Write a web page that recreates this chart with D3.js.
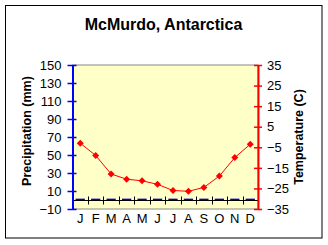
<!DOCTYPE html>
<html><head><meta charset="utf-8">
<script src="https://cdn.jsdelivr.net/npm/d3@7"></script>
<style>html,body{margin:0;padding:0;background:#fff;}svg{display:block;}</style>
</head><body>
<script>
const months = ["J","F","M","A","M","J","J","A","S","O","N","D"];
const precipitation = [1.5,1.5,1.5,1.5,1.5,1.5,1.5,1.5,1.5,1.5,1.5,1.5];
const temperature = [-3,-9,-18,-20.5,-21.3,-23,-26,-26.4,-24.5,-19,-10,-3.5];
const precipTicks = [150,130,110,90,70,50,30,10,-10];
const tempTicks = [35,25,15,5,-5,-15,-25,-35];
const title = "McMurdo, Antarctica";

const W = 328, H = 245;
const L = 72.5, R = 258, T = 65, B = 209;
const font = "'Liberation Sans', Arial, sans-serif";

const svg = d3.select("body").append("svg").attr("width", W).attr("height", H);

svg.append("rect").attr("x",5.5).attr("y",5.5).attr("width",316.5).attr("height",232.5)
  .attr("fill","#fff").attr("stroke","#000").attr("stroke-width",1);

const x = d3.scaleBand().domain(d3.range(12)).range([L, R]);
const yP = d3.scaleLinear().domain([-10,150]).range([B, T]);
const yT = d3.scaleLinear().domain([-35,35]).range([B, T]);

svg.append("rect").attr("x",L).attr("y",T).attr("width",R-L).attr("height",B-T)
  .attr("fill","#FFFFC8").attr("stroke","#888").attr("stroke-width",1);

svg.append("text").attr("x",163.5).attr("y",30).attr("text-anchor","middle")
  .attr("font-family",font).attr("font-weight","bold").attr("font-size",16).text(title);

// precipitation bars
svg.selectAll(".bar").data(precipitation).enter().append("rect")
  .attr("x",(d,i)=>x(i)+x.bandwidth()*0.2).attr("width",x.bandwidth()*0.6)
  .attr("y",d=>yP(d)).attr("height",d=>yP(0)-yP(d)).attr("fill","#0000CC");

// zero axis line with category ticks
const zy = Math.round(yP(0))+0.5;
svg.append("line").attr("x1",L).attr("x2",R).attr("y1",zy).attr("y2",zy).attr("stroke","#000").attr("stroke-width",1);
svg.selectAll(".ct").data(d3.range(1,12)).enter().append("line")
  .attr("x1",i=>Math.round(x(i))+0.5).attr("x2",i=>Math.round(x(i))+0.5)
  .attr("y1",zy-4).attr("y2",zy+4).attr("stroke","#000");

// left axis
const gl = svg.append("g").attr("transform",`translate(${L},0)`)
  .call(d3.axisLeft(yP).tickValues(precipTicks).tickSize(5).tickSizeInner(5).tickSizeOuter(0).tickPadding(6));
gl.select(".domain").attr("stroke","#0000FF").attr("stroke-width",2);
gl.selectAll(".tick line").attr("stroke","#0000FF").attr("stroke-width",1.5).attr("x2",-5).attr("x1",4);
gl.selectAll(".tick text").attr("font-family",font).attr("font-size",13).attr("fill","#000").attr("x",-11);

// right axis
const gr = svg.append("g").attr("transform",`translate(${R},0)`)
  .call(d3.axisRight(yT).tickValues(tempTicks).tickSize(4).tickSizeOuter(0).tickPadding(6));
gr.select(".domain").attr("stroke","#FF0000").attr("stroke-width",2);
gr.selectAll(".tick line").attr("stroke","#FF0000").attr("stroke-width",1.5).attr("x1",-4);
gr.selectAll(".tick text").attr("font-family",font).attr("font-size",13).attr("fill","#000").attr("x",9);

// month labels
svg.selectAll(".ml").data(months).enter().append("text")
  .attr("x",(d,i)=>x(i)+x.bandwidth()/2).attr("y",223).attr("text-anchor","middle")
  .attr("font-family",font).attr("font-size",13).text(d=>d);

// temperature line
const line = d3.line().x((d,i)=>x(i)+x.bandwidth()/2).y(d=>yT(d));
svg.append("path").datum(temperature).attr("d",line).attr("fill","none").attr("stroke","#FF0000").attr("stroke-width",1);
svg.selectAll(".pt").data(temperature).enter().append("path")
  .attr("transform",(d,i)=>`translate(${x(i)+x.bandwidth()/2},${yT(d)})`)
  .attr("d","M0,-3.5L3.5,0L0,3.5L-3.5,0Z").attr("fill","#FF0000");

// axis titles
svg.append("text").attr("transform",`translate(31,131) rotate(-90)`).attr("text-anchor","middle")
  .attr("font-family",font).attr("font-weight","bold").attr("font-size",12.5).text("Precipitation (mm)");
svg.append("text").attr("transform",`translate(303,137) rotate(-90)`).attr("text-anchor","middle")
  .attr("font-family",font).attr("font-weight","bold").attr("font-size",12.5).text("Temperature (C)");
</script>
</body></html>
